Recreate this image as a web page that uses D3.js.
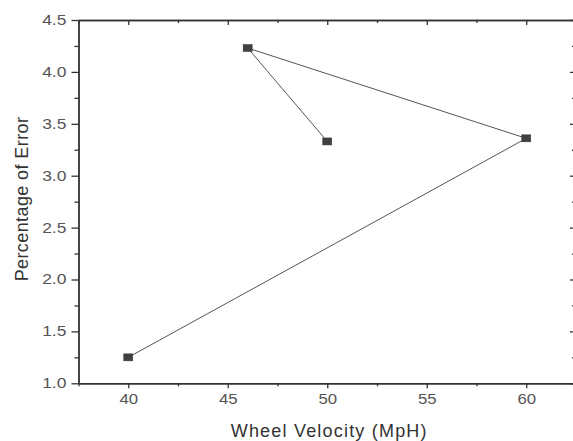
<!DOCTYPE html>
<html>
<head>
<meta charset="utf-8">
<script src="https://cdn.jsdelivr.net/npm/d3@7"></script>
<style>
  body { margin: 0; background: #fff; }
  svg { display: block; font-family: "Liberation Sans", Arial, sans-serif; }
</style>
</head>
<body>
<svg id="chart" width="573" height="441"></svg>
<script>
// data, in drawing order
var velocity = [40, 60, 46, 50];
var errorPct = [1.25, 3.36, 4.23, 3.33];

var xMajor = [40, 45, 50, 55, 60];
var xMinor = [37.5, 42.5, 47.5, 52.5, 57.5, 62.5];
var yMajor = [1.0, 1.5, 2.0, 2.5, 3.0, 3.5, 4.0, 4.5];
var yMinor = [1.25, 1.75, 2.25, 2.75, 3.25, 3.75, 4.25];

var svg = d3.select("#chart");
var plotL = 78.5, plotR = 576, plotT = 20, plotB = 383.3;

var xs = d3.scaleLinear().domain([37.5, 62.5]).range([plotL, plotR]);
var ys = d3.scaleLinear().domain([1.0, 4.5]).range([plotB, plotT]);

var axisCol = "#333";
var labelCol = "#555";

// stretch text a bit wider, the picture is a little squashed sideways
function widen(sel, k, anchorEnd) {
    sel.each(function() {
        var t = d3.select(this);
        var bb = this.getBBox();
        var ax = anchorEnd ? bb.x + bb.width : bb.x + bb.width / 2;
        t.attr("transform", "translate(" + ax + ",0) scale(" + k + ",1) translate(" + (-ax) + ",0)");
    });
}

function styleAxis(g) {
    g.selectAll("path, line").attr("stroke", axisCol).attr("stroke-width", 1.3);
    g.select(".domain").attr("stroke-width", 1.4);
    g.selectAll("text").attr("fill", labelCol).attr("font-size", 14)
        .attr("font-family", "'Liberation Sans', Arial, sans-serif");
}

// bottom axis
var gx = svg.append("g").attr("transform", "translate(0," + plotB + ")")
    .call(d3.axisBottom(xs).tickValues(xMajor).tickSize(5).tickPadding(6).tickSizeOuter(0).tickFormat(d3.format("d")));
gx.call(styleAxis);
svg.append("g").attr("transform", "translate(0," + plotB + ")")
    .call(d3.axisBottom(xs).tickValues(xMinor).tickSize(3).tickSizeOuter(0).tickFormat(""))
    .call(styleAxis);

// top axis, ticks inward
svg.append("g").attr("transform", "translate(0," + plotT + ")")
    .call(d3.axisBottom(xs).tickValues(xMajor).tickSize(5).tickSizeOuter(0).tickFormat(""))
    .call(styleAxis);
svg.append("g").attr("transform", "translate(0," + plotT + ")")
    .call(d3.axisBottom(xs).tickValues(xMinor).tickSize(3).tickSizeOuter(0).tickFormat(""))
    .call(styleAxis);

// left axis
var gy = svg.append("g").attr("transform", "translate(" + plotL + ",0)")
    .call(d3.axisLeft(ys).tickValues(yMajor).tickSize(7).tickPadding(5).tickSizeOuter(0).tickFormat(d3.format(".1f")));
gy.call(styleAxis);
svg.append("g").attr("transform", "translate(" + plotL + ",0)")
    .call(d3.axisLeft(ys).tickValues(yMinor).tickSize(4).tickSizeOuter(0).tickFormat(""))
    .call(styleAxis);

// right axis, ticks inward (mostly outside the window)
svg.append("g").attr("transform", "translate(" + plotR + ",0)")
    .call(d3.axisLeft(ys).tickValues(yMajor).tickSize(6).tickSizeOuter(0).tickFormat(""))
    .call(styleAxis);
svg.append("g").attr("transform", "translate(" + plotR + ",0)")
    .call(d3.axisLeft(ys).tickValues(yMinor).tickSize(4).tickSizeOuter(0).tickFormat(""))
    .call(styleAxis);

widen(gx.selectAll("text"), 1.2, false);
widen(gy.selectAll("text"), 1.25, true);

// line
var pts = velocity.map(function(v, i) { return [v, errorPct[i]]; });
svg.append("path")
    .datum(pts)
    .attr("fill", "none")
    .attr("stroke", "#555")
    .attr("stroke-width", 1)
    .attr("d", d3.line().x(function(d) { return xs(d[0]); }).y(function(d) { return ys(d[1]); }));

// square markers
var ms = 8;
svg.selectAll("rect.pt")
    .data(pts)
    .enter()
    .append("rect")
    .attr("class", "pt")
    .attr("x", function(d) { return xs(d[0]) - ms / 2 - 0.5; })
    .attr("y", function(d) { return ys(d[1]) - ms / 2 + 0.5; })
    .attr("width", ms + 1)
    .attr("height", ms - 1)
    .attr("fill", "#404040")
    .attr("stroke", "#333")
    .attr("stroke-width", 0.5);

// axis titles
svg.append("text")
    .attr("x", (xs(45) + xs(55)) / 2 + 2)
    .attr("y", 437)
    .attr("text-anchor", "middle")
    .attr("font-size", 18)
    .attr("fill", "#333")
    .attr("letter-spacing", 1.2)
    .text("Wheel Velocity (MpH)");

svg.append("text")
    .attr("transform", "translate(27.5,199) rotate(-90)")
    .attr("text-anchor", "middle")
    .attr("font-size", 18)
    .attr("fill", "#333")
    .attr("letter-spacing", 0.4)
    .text("Percentage of Error");
</script>
</body>
</html>
